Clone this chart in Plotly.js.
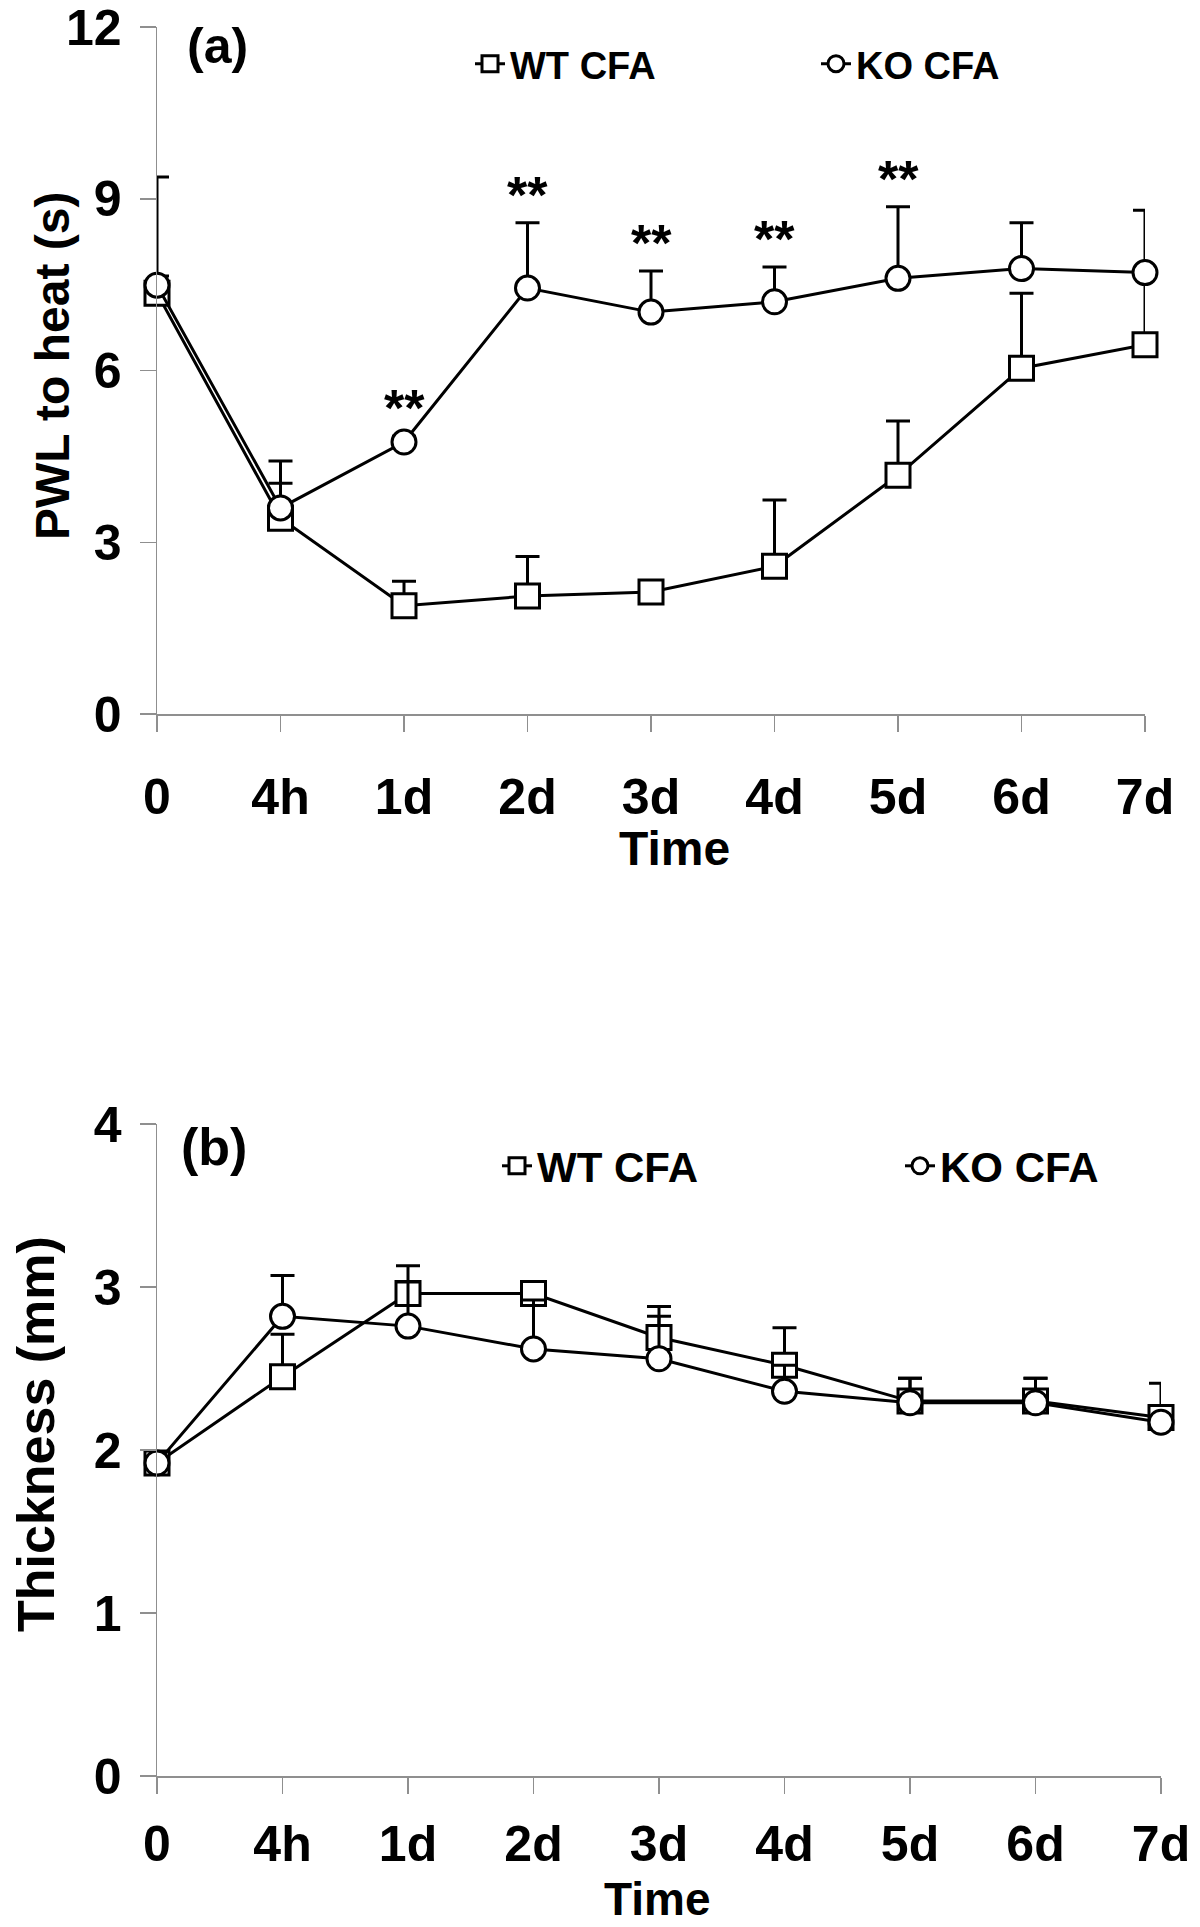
<!DOCTYPE html>
<html>
<head>
<meta charset="utf-8">
<script src="https://cdn.plot.ly/plotly-3.0.1.min.js"></script>
<style>
  html, body { margin: 0; padding: 0; background: #fff; }
  #chart { width: 1200px; height: 1927px; }
</style>
</head>
<body>
<div id="chart"></div>
<script>
// ---------- data ----------
const categories = ['0', '4h', '1d', '2d', '3d', '4d', '5d', '6d', '7d'];

// (a) paw withdrawal latency to heat (s)
const pwlWT    = [7.35, 3.42, 1.89, 2.06, 2.13, 2.58, 4.17, 6.04, 6.45];
const pwlWTerr = [0.30, 0.61, 0.43, 0.69, 0.15, 1.16, 0.95, 1.31, 1.26];
const pwlKO    = [7.49, 3.60, 4.75, 7.44, 7.02, 7.20, 7.61, 7.78, 7.71];
const pwlKOerr = [1.89, 0.82, 0.10, 1.14, 0.72, 0.61, 1.25, 0.80, 1.09];
const pwlSig   = ['', '', '**', '**', '**', '**', '**', '', ''];

// (b) paw thickness (mm)
const thkWT    = [1.92, 2.45, 2.96, 2.96, 2.69, 2.52, 2.30, 2.30, 2.20];
const thkWTerr = [0.02, 0.26, 0.17, 0.03, 0.19, 0.23, 0.14, 0.14, 0.21];
const thkKO    = [1.92, 2.82, 2.76, 2.62, 2.56, 2.36, 2.29, 2.29, 2.17];
const thkKOerr = [0.02, 0.25, 0.27, 0.30, 0.26, 0.16, 0.15, 0.15, 0.02];

const seriesNames = ['WT CFA', 'KO CFA'];

// ---------- helpers ----------
const W = 1200, H = 1927;
const px = v => v / W;
const py = v => (H - v) / H;
const FONT = 'Liberation Sans, Arial, Helvetica, sans-serif';
const zeros = arr => arr.map(() => 0);

function series(y, err, name, symbol, xa, ya, legend) {
  return {
    type: 'scatter', mode: 'lines+markers',
    x: categories, y: y, name: name,
    xaxis: xa, yaxis: ya, legend: legend, showlegend: true,
    cliponaxis: false,
    line: { color: '#000', width: 3 },
    marker: { symbol: symbol, size: 24, color: '#fff', line: { color: '#000', width: 3 } },
    error_y: { type: 'data', symmetric: false, array: err, arrayminus: zeros(err),
               color: '#000', thickness: 3, width: 12 }
  };
}

const traces = [
  series(pwlWT, pwlWTerr, seriesNames[0], 'square', 'x', 'y', 'legend'),
  series(pwlKO, pwlKOerr, seriesNames[1], 'circle', 'x', 'y', 'legend'),
  series(thkWT, thkWTerr, seriesNames[0], 'square', 'x2', 'y2', 'legend2'),
  series(thkKO, thkKOerr, seriesNames[1], 'circle', 'x2', 'y2', 'legend2')
];

function xAxis(domain, anchor, size, standoff) {
  return {
    domain: domain, anchor: anchor, type: 'category', range: [0, categories.length - 1],
    showline: true, linecolor: '#8f8f8f', linewidth: 1.5,
    ticks: 'outside', ticklen: 16, tickwidth: 1.5, tickcolor: '#8f8f8f',
    showgrid: false, zeroline: false, ticklabelstandoff: standoff,
    ticklabeloverflow: 'allow',
    tickfont: { family: FONT, size: size, color: '#000', weight: 'bold' }
  };
}
function yAxis(domain, anchor, range, dtick, size) {
  return {
    domain: domain, anchor: anchor, range: range, dtick: dtick, tick0: 0,
    showline: true, linecolor: '#8f8f8f', linewidth: 1.5,
    ticks: 'outside', ticklen: 16, tickwidth: 1.5, tickcolor: '#8f8f8f',
    showgrid: false, zeroline: false, ticklabelstandoff: 8,
    ticklabeloverflow: 'allow',
    tickfont: { family: FONT, size: size, color: '#000', weight: 'bold' }
  };
}

const annotations = [
  { text: '(a)', xref: 'paper', yref: 'paper', x: px(217), y: py(46), xanchor: 'center', yanchor: 'middle',
    showarrow: false, font: { family: FONT, size: 50, color: '#000', weight: 'bold' } },
  { text: '(b)', xref: 'paper', yref: 'paper', x: px(214), y: py(1147), xanchor: 'center', yanchor: 'middle',
    showarrow: false, font: { family: FONT, size: 52, color: '#000', weight: 'bold' } },
  { text: 'PWL to heat (s)', xref: 'paper', yref: 'paper', x: px(52), y: py(366), textangle: -90,
    xanchor: 'center', yanchor: 'middle', showarrow: false,
    font: { family: FONT, size: 48, color: '#000', weight: 'bold' } },
  { text: 'Thickness (mm)', xref: 'paper', yref: 'paper', x: px(36), y: py(1434), textangle: -90,
    xanchor: 'center', yanchor: 'middle', showarrow: false,
    font: { family: FONT, size: 52, color: '#000', weight: 'bold' } },
  { text: 'Time', xref: 'paper', yref: 'paper', x: px(674), y: py(848), xanchor: 'center', yanchor: 'middle',
    showarrow: false, font: { family: FONT, size: 48, color: '#000', weight: 'bold' } },
  { text: 'Time', xref: 'paper', yref: 'paper', x: px(657), y: 0, xanchor: 'center', yanchor: 'bottom',
    showarrow: false, font: { family: FONT, size: 46, color: '#000', weight: 'bold' } }
];

categories.forEach((c, i) => {
  if (pwlSig[i]) {
    annotations.push({
      text: pwlSig[i], xref: 'x', yref: 'y', x: c, y: pwlKO[i] + pwlKOerr[i],
      xanchor: 'center', yanchor: 'bottom', yshift: -3, showarrow: false,
      font: { family: FONT, size: 52, color: '#000', weight: 'bold' }
    });
  }
});

const layout = {
  width: W, height: H,
  margin: { l: 0, r: 0, t: 0, b: 0, autoexpand: false },
  paper_bgcolor: '#fff', plot_bgcolor: '#fff',
  font: { family: FONT, color: '#000' },
  xaxis:  xAxis([px(157), px(1145)], 'y', 50, 22),
  yaxis:  yAxis([py(714), py(27)], 'x', [0, 12], 3, 50),
  xaxis2: xAxis([px(157), px(1161)], 'y2', 50, 7),
  yaxis2: yAxis([py(1776), py(1124)], 'x2', [0, 4], 1, 50),
  legend: {
    orientation: 'h', x: px(470), y: py(64), xanchor: 'left', yanchor: 'middle',
    entrywidth: 301, entrywidthmode: 'pixels', bgcolor: 'rgba(0,0,0,0)',
    font: { family: FONT, size: 38, color: '#000', weight: 'bold' }
  },
  legend2: {
    orientation: 'h', x: px(497), y: py(1166), xanchor: 'left', yanchor: 'middle',
    entrywidth: 358, entrywidthmode: 'pixels', bgcolor: 'rgba(0,0,0,0)',
    font: { family: FONT, size: 42, color: '#000', weight: 'bold' }
  },
  annotations: annotations,
  showlegend: true
};

Plotly.newPlot('chart', traces, layout, { displayModeBar: false, staticPlot: true });
</script>
</body>
</html>
